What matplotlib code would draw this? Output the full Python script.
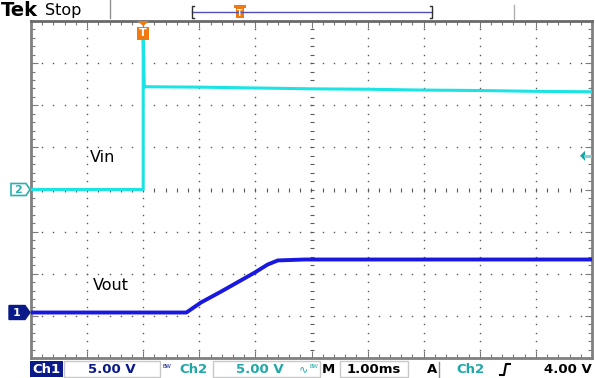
import numpy as np
import matplotlib.pyplot as plt
from matplotlib.patches import Polygon, Rectangle

# scope settings
volts_per_div = 5.0
ms_per_div = 1.0
trig_level = 4.0        # V on Ch2
ch1_offset = -2.92      # divisions
ch2_offset = 0.0

# Ch2 (Vin) trace, time in ms after trigger
t_vin = [-2.0, 0.0, 0.0, 0.02, 1.0, 2.0, 3.0, 4.0, 5.0, 6.0, 7.0, 8.0]
v_vin = [0.0, 0.0, 17.8, 12.2, 12.15, 12.05, 11.95, 11.9, 11.8, 11.75, 11.65, 11.6]

# Ch1 (Vout) trace
t_vout = [-2.0, 0.77, 1.03, 1.39, 1.99, 2.22, 2.40, 2.88, 8.0]
v_vout = [0.0, 0.0, 1.19, 2.49, 4.75, 5.70, 6.18, 6.29, 6.29]

W, H = 595, 378
fig = plt.figure(figsize=(W / 100, H / 100), dpi=100)
fig.patch.set_facecolor('white')

L, R, T, B = 31, 592, 21, 358
ax = fig.add_axes([L / W, 1 - B / H, (R - L) / W, (B - T) / H])
ax.set_xlim(-2, 8)
ax.set_ylim(-4, 4)

grid_c = '#5a5a5a'
xs = np.arange(-2, 8.001, 0.2)
ys = np.arange(-4, 4.001, 0.2)
for xv in range(-1, 8):
    if xv == 3:
        continue
    ax.plot(np.full_like(ys, xv), ys, ls='none', marker='s', ms=1.0, mew=0, color=grid_c, zorder=1)
for yv in range(-3, 4):
    if yv == 0:
        continue
    ax.plot(xs, np.full_like(xs, yv), ls='none', marker='s', ms=1.0, mew=0, color=grid_c, zorder=1)
# center cross with ticks
ax.plot(xs, np.zeros_like(xs), ls='none', marker='|', ms=3.5, mew=0.8, color=grid_c, zorder=1)
ax.plot(np.full_like(ys, 3), ys, ls='none', marker='_', ms=3.5, mew=0.8, color=grid_c, zorder=1)

ax.set_xticks(np.arange(-2, 8.01, 1))
ax.set_xticks(xs, minor=True)
ax.set_yticks(np.arange(-4, 4.01, 1))
ax.set_yticks(ys, minor=True)
ax.tick_params(which='both', direction='in', top=True, right=True,
               labelbottom=False, labelleft=False, color='#7a7a7a', width=0.8)
ax.tick_params(which='major', length=5)
ax.tick_params(which='minor', length=3)
for s in ax.spines.values():
    s.set_color('#808080')
    s.set_linewidth(2)
ax.spines['top'].set_color('#6a6a6a')

vin_c = '#1CE4E4'
vout_c = '#1818E0'
ax.plot(t_vin, np.array(v_vin) / volts_per_div + ch2_offset, color=vin_c, lw=2.2, zorder=3)
ax.plot(t_vout, np.array(v_vout) / volts_per_div + ch1_offset, color=vout_c, lw=2.8, zorder=4)

ax.text(-0.95, 0.75, 'Vin', fontsize=11.5, color='black', va='center', ha='left')
ax.text(-0.9, -2.27, 'Vout', fontsize=11.5, color='black', va='center', ha='left')

# overlay in pixel coordinates for the scope decorations
ov = fig.add_axes([0, 0, 1, 1], zorder=5)
ov.set_xlim(0, W)
ov.set_ylim(H, 0)
ov.axis('off')
ov.patch.set_visible(False)


def px(x, y):
    d = ax.transData.transform((x, y))
    return d[0], H - d[1]


# trigger marker at top
tx, _ = px(0, 0)
ov.add_patch(Polygon([[tx - 6, 21], [tx + 6, 21], [tx, 26]], closed=True, color='#F07A10', lw=0))
ov.add_patch(Rectangle((tx - 6, 27), 12, 13, color='#F07A10', lw=0))
ov.text(tx, 33.5, 'T', color='white', fontsize=8, fontweight='bold', ha='center', va='center')

# ch2 ground marker
_, g2 = px(0, ch2_offset)
ov.add_patch(Polygon([[11, g2 - 6], [26, g2 - 6], [30, g2], [26, g2 + 6], [11, g2 + 6]],
                     closed=True, facecolor='white', edgecolor='#2AB0B0', lw=1.2))
ov.text(18, g2 + 0.5, '2', color='#2AB0B0', fontsize=8, fontweight='bold', ha='center', va='center')
# ch1 ground marker
_, g1 = px(0, ch1_offset)
ov.add_patch(Polygon([[9, g1 - 7], [25, g1 - 7], [30, g1], [25, g1 + 7], [9, g1 + 7]],
                     closed=True, facecolor='#0A1A88', edgecolor='#0A1A88', lw=1))
ov.text(17, g1 + 0.5, '1', color='white', fontsize=8, fontweight='bold', ha='center', va='center')

# trigger level arrow on right
_, ty = px(0, trig_level / volts_per_div + ch2_offset)
ov.add_patch(Polygon([[580, ty], [585, ty - 5], [585, ty + 5]], closed=True, color='#16A6A6', lw=0))
ov.plot([585, 590], [ty, ty], color='#7ED0D0', lw=2)

# top bar
ov.text(1, 10, 'Tek', fontsize=14, fontweight='bold', ha='left', va='center', color='black')
ov.text(45, 10, 'Stop', fontsize=11.5, ha='left', va='center', color='black')
ov.plot([110, 110], [0, 18], color='#909090', lw=1)
ov.plot([514, 514], [5, 19], color='#b0b0b0', lw=1)
ov.plot([192, 432], [12, 12], color='#5050B0', lw=1)
ov.plot([194, 192, 192, 194], [6, 6, 18, 18], color='#303030', lw=1)
ov.plot([430, 432, 432, 430], [6, 6, 18, 18], color='#303030', lw=1)
ov.add_patch(Rectangle((236, 8), 8, 10, color='#F07A10', lw=0))
ov.add_patch(Rectangle((234, 5), 12, 3, color='#F07A10', lw=0))
ov.text(240, 13, 'T', color='white', fontsize=5.5, fontweight='bold', ha='center', va='center')

# status bar
sy = 369.5
ov.add_patch(Rectangle((30, 361), 33, 16, facecolor='#0A1A88', lw=0))
ov.text(46.5, sy, 'Ch1', color='white', fontsize=9.5, fontweight='bold', ha='center', va='center')
ov.add_patch(Rectangle((64, 361), 96, 16, facecolor='white', edgecolor='#c8c8c8', lw=1))
ov.text(112, sy, '5.00 V', color='#0A1A88', fontsize=9.5, fontweight='bold', ha='center', va='center')
ov.text(167, 366, 'BW', color='#0A1A88', fontsize=4, ha='center', va='center')
ov.text(193, sy, 'Ch2', color='#20A8A8', fontsize=9.5, fontweight='bold', ha='center', va='center')
ov.add_patch(Rectangle((213, 361), 107, 16, facecolor='white', edgecolor='#c8c8c8', lw=1))
ov.text(260, sy, '5.00 V', color='#20A8A8', fontsize=9.5, fontweight='bold', ha='center', va='center')
ov.text(303, sy, '∿', color='#20A8A8', fontsize=8, ha='center', va='center')
ov.text(314, 366, 'BW', color='#20A8A8', fontsize=4, ha='center', va='center')
ov.text(328, sy, 'M', color='black', fontsize=9.5, fontweight='bold', ha='center', va='center')
ov.add_patch(Rectangle((340, 361), 68, 16, facecolor='white', edgecolor='#c8c8c8', lw=1))
ov.text(374, sy, '1.00ms', color='black', fontsize=9.5, fontweight='bold', ha='center', va='center')
ov.text(432, sy, 'A', color='black', fontsize=9.5, fontweight='bold', ha='center', va='center')
ov.plot([439, 439], [362, 377], color='#909090', lw=1)
ov.text(470, sy, 'Ch2', color='#20A8A8', fontsize=9.5, fontweight='bold', ha='center', va='center')
ov.plot([500, 504, 506, 510], [375, 375, 364, 364], color='black', lw=1.5)
ov.text(592, sy, '4.00 V', color='black', fontsize=9.5, fontweight='bold', ha='right', va='center')

fig.savefig('out.png', dpi=100, facecolor='white')
